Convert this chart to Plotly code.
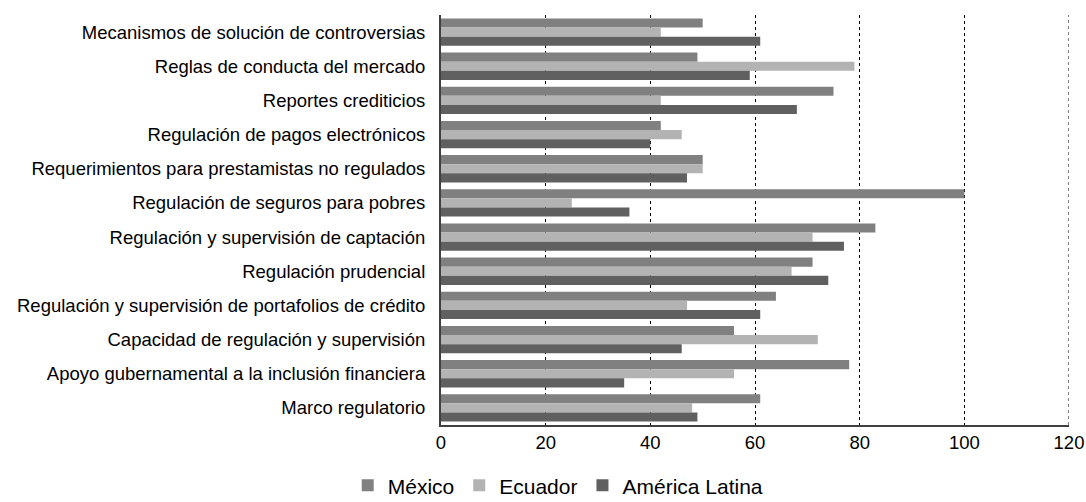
import plotly.graph_objects as go

categories = [
    "Mecanismos de solución de controversias",
    "Reglas de conducta del mercado",
    "Reportes crediticios",
    "Regulación de pagos electrónicos",
    "Requerimientos para prestamistas no regulados",
    "Regulación de seguros para pobres",
    "Regulación y supervisión de captación",
    "Regulación prudencial",
    "Regulación y supervisión de portafolios de crédito",
    "Capacidad de regulación y supervisión",
    "Apoyo gubernamental a la inclusión financiera",
    "Marco regulatorio",
]
mexico = [50, 49, 75, 42, 50, 100, 83, 71, 64, 56, 78, 61]
ecuador = [42, 79, 42, 46, 50, 25, 71, 67, 47, 72, 56, 48]
america_latina = [61, 59, 68, 40, 47, 36, 77, 74, 61, 46, 35, 49]
x_ticks = [0, 20, 40, 60, 80, 100, 120]

series = [
    ("México", mexico, "#808080"),
    ("Ecuador", ecuador, "#b3b3b3"),
    ("América Latina", america_latina, "#606060"),
]

fig = go.Figure()
for name, vals, color in series:
    fig.add_trace(go.Bar(
        y=categories, x=vals, name=name, orientation="h",
        marker=dict(color=color, line=dict(width=0)),
    ))

# dashed gridline at the right edge of the axis (plotly omits the edge gridline)
fig.add_shape(type="line", xref="x", yref="paper", x0=x_ticks[-1], x1=x_ticks[-1],
              y0=0, y1=1, line=dict(color="#000000", width=1, dash="dot"), layer="below")

fig.update_layout(
    width=1086, height=502,
    margin=dict(l=441, r=17, t=15, b=77, autoexpand=False),
    paper_bgcolor="white", plot_bgcolor="white",
    barmode="group", bargap=0.2, bargroupgap=0,
    font=dict(family="Liberation Sans, Arial, sans-serif", size=18.5, color="#000000"),
    showlegend=True,
    legend=dict(orientation="h", xref="container", x=0.514, xanchor="center",
                y=-0.148, yanchor="middle",
                font=dict(size=21), itemwidth=30, tracegroupgap=0),
    xaxis=dict(range=[0, 120], tickvals=x_ticks,
               showgrid=True, gridcolor="#000000",
               griddash="dot", gridwidth=1, zeroline=False,
               showline=True, linecolor="#404040", linewidth=1.5,
               ticks="", tickfont=dict(size=18.5)),
    yaxis=dict(autorange="reversed", showline=True, linecolor="#404040", linewidth=1.5,
               ticks="", showgrid=False, tickfont=dict(size=18.5), ticksuffix="  "),
)

fig.write_html("out.html")
